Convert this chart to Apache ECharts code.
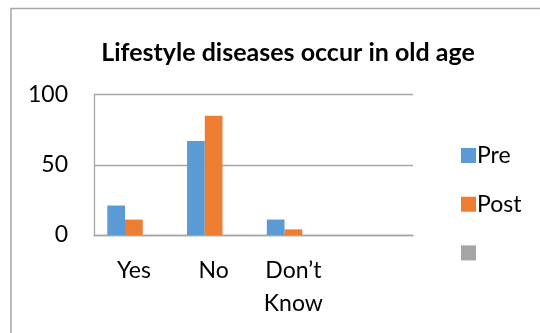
<!DOCTYPE html>
<html><head><meta charset="utf-8">
<script src="https://cdn.jsdelivr.net/npm/echarts@6/dist/echarts.min.js"></script>
<style>html,body{margin:0;padding:0;background:#fff}#c{width:540px;height:333px}</style>
</head><body><div id="c"></div>
<script>
const titleText = 'Lifestyle diseases occur in old age';
const categories = ['Yes', 'No', 'Don\u2019t\nKnow', ''];
const seriesNames = ['Pre', 'Post', ' '];
const preValues = [21, 67, 11, null];
const postValues = [11, 85, 4, null];
const thirdValues = [null, null, null, null];
const yTicks = [0, 50, 100];
const colors = ['#5B9BD5', '#ED7D31', '#A5A5A5'];

const chart = echarts.init(document.getElementById('c'), null, {renderer: 'canvas'});
const font = 'Lato, "Liberation Sans", sans-serif';
const allValues = [preValues, postValues, thirdValues];
chart.setOption({
  animation: false,
  color: colors,
  graphic: [{
    type: 'rect', silent: true, z: -1,
    shape: {x: 11, y: 8.5, width: 700, height: 500},
    style: {fill: 'none', stroke: '#a6a6a6', lineWidth: 1.5}
  }],
  title: {
    text: titleText, left: 283, top: 35, textAlign: 'center',
    textStyle: {fontFamily: font, fontWeight: 'bold', fontSize: 25, color: '#000', lineHeight: 26}
  },
  legend: {
    orient: 'vertical', left: 456, top: 139,
    itemWidth: 15, itemHeight: 15, itemGap: 25.7, icon: 'rect',
    data: seriesNames,
    textStyle: {fontFamily: font, fontSize: 23, color: '#000', lineHeight: 23, padding: [0,0,0,-4]}
  },
  grid: {left: 94, right: 127, top: 94.7, bottom: 98, containLabel: false},
  xAxis: {
    type: 'category', data: categories,
    axisLine: {show: true, lineStyle: {color: '#a6a6a6', width: 1.3}},
    axisTick: {show: false},
    axisLabel: {fontFamily: font, fontSize: 23, color: '#000', margin: 19, lineHeight: 33, interval: 0}
  },
  yAxis: {
    type: 'value', min: yTicks[0], max: yTicks[yTicks.length-1], interval: yTicks[1]-yTicks[0],
    axisLine: {show: true, lineStyle: {color: '#a6a6a6', width: 1.3}},
    axisTick: {show: false},
    splitLine: {lineStyle: {color: '#a6a6a6', width: 1.3}},
    axisLabel: {fontFamily: font, fontSize: 23, color: '#000', margin: 26}
  },
  series: seriesNames.map((n, i) => ({
    name: n, type: 'bar', data: allValues[i],
    barGap: 0, barCategoryGap: '33.4%',
    itemStyle: {color: colors[i]}
  }))
});
</script></body></html>
